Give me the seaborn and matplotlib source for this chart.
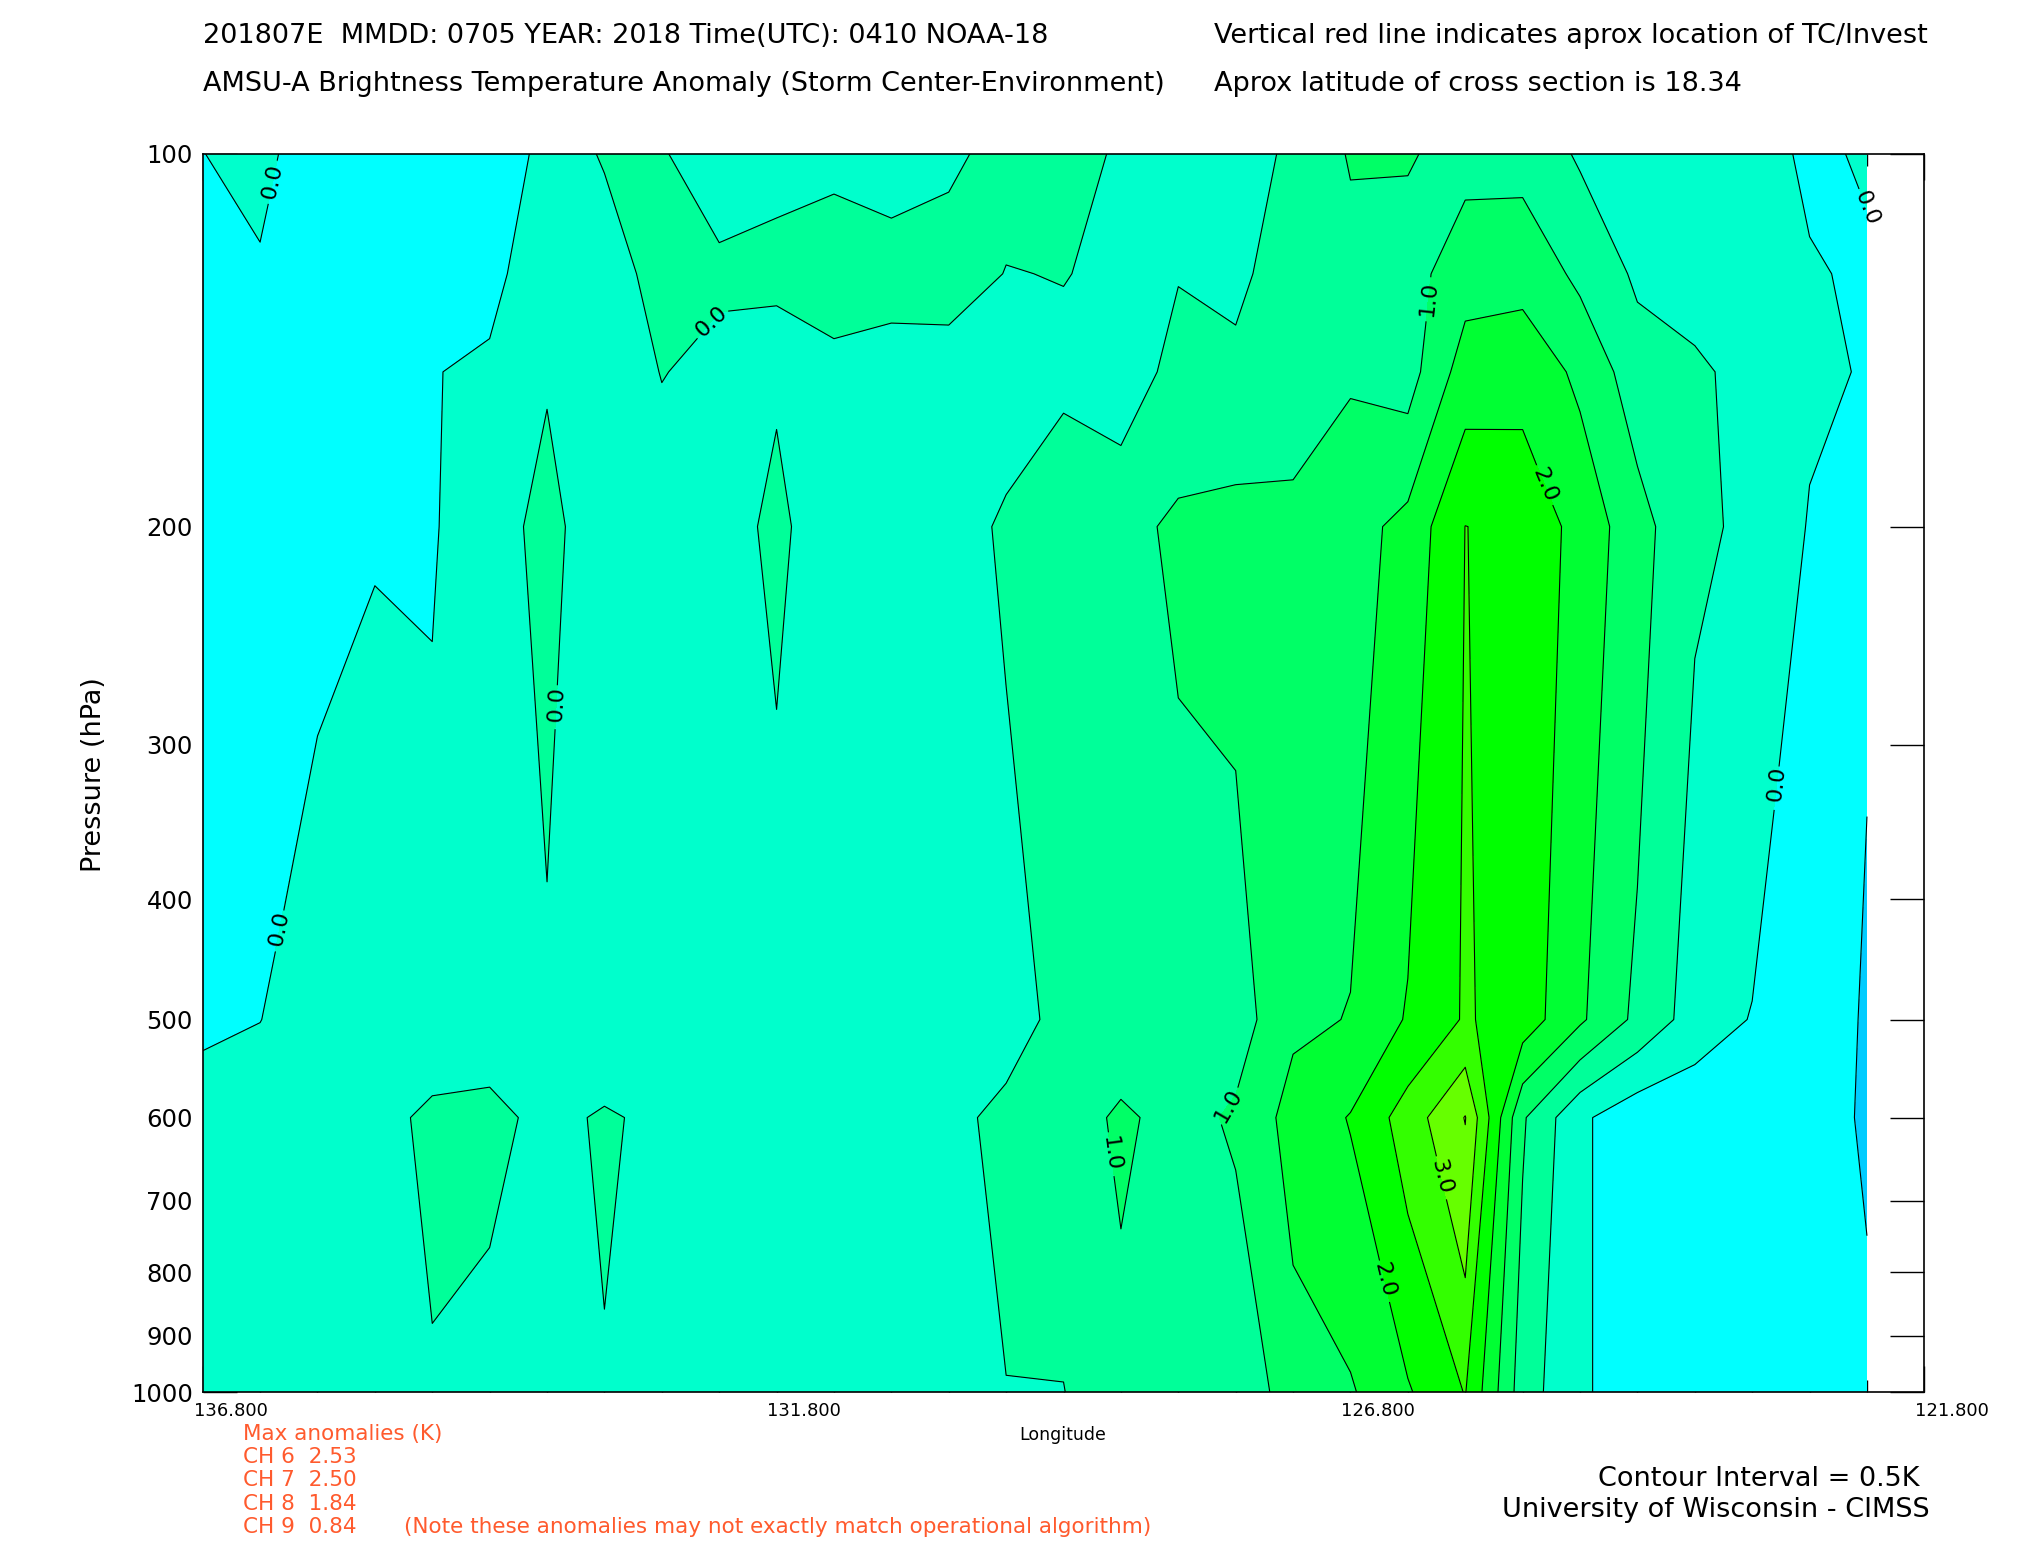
import numpy as np
import matplotlib
matplotlib.use("Agg")
import matplotlib.pyplot as plt
import matplotlib.ticker as mticker
from matplotlib.colors import ListedColormap, BoundaryNorm
from matplotlib.transforms import ScaledTranslation
import seaborn as sns

# ---- data: AMSU-A brightness temperature anomaly cross section ----
# 30 longitude columns, 0.5 deg apart, from 136.8E westward to 122.3E
lons = np.round(np.arange(136.8, 122.29, -0.5), 1)
pressure = [100, 125, 150, 200, 500, 600, 1000]

anom_100 = [-0.005, 0.1, -0.21, -0.25, -0.3, -0.45, 0.2, 0.55, 0.53, 0.28,
            0.465, 0.387, 0.293, 0.395, 0.68, 0.6, 0.467, 0.35, 0.45, 0.52,
            1.05, 1.04, 0.835, 0.822, 0.44, 0.35, 0.3, 0.24, -0.1, 0.06]
anom_125 = [-0.2, -0.04, -0.25, -0.25, -0.25, -0.178, 0.4, 0.21, 0.728, 0.586,
            0.534, 0.75, 0.7, 0.75, 0.484, 0.517, 0.4, 0.478, 0.35, 0.85,
            0.8, 0.8, 1.294, 1.346, 0.888, 0.42, 0.2, 0.25, 0.05, -0.08]
anom_150 = [-0.25, -0.2, -0.25, -0.15, -0.023, 0.1, 0.452, 0.12, 0.52, 0.353,
            0.423, 0.36, 0.283, 0.25, 0.4, 0.374, 0.225, 0.66, 0.65, 0.6,
            0.946, 0.79, 1.742, 1.794, 1.407, 0.716, 0.62, 0.28, 0.08, -0.03]
anom_200 = [-0.3, -0.25, -0.093, -0.021, -0.034, 0.25, 0.674, 0.13, 0.19, 0.2,
            0.65, 0.073, 0.15, 0.41, 0.53, 0.9, 0.85, 1.088, 1.15, 1.2,
            1.3, 1.657, 2.505, 2.4, 1.81, 1.21, 0.55, 0.45, -0.034, -0.45]
anom_500 = [-0.064, -0.006, 0.2, 0.25, 0.18, 0.297, 0.395, 0.2, 0.25, 0.2,
            0.094, 0.15, 0.2, 0.3, 0.4, 0.57, 0.6, 0.736, 0.758, 1.41,
            1.518, 2.048, 2.55, 2.27, 1.58, 0.88, 0.28, -0.027, -0.2, -0.555]
anom_600 = [0.15, 0.2, 0.25, 0.337, 0.6, 0.6, 0.4, 0.543, 0.42, 0.3,
            0.3, 0.3, 0.35, 0.441, 0.559, 0.7, 1.1, 0.8, 1.08, 1.68,
            2.029, 2.73, 3.52, 1.06, 0.093, -0.33, -0.36, -0.3, -0.25, -0.57]
anom_1000 = [0.2, 0.2, 0.2, 0.25, 0.457, 0.356, 0.3, 0.476, 0.4, 0.3,
             0.3, 0.3, 0.3, 0.35, 0.495, 0.49, 0.81, 0.75, 0.56, 1.3,
             1.446, 1.95, 2.52, 0.73, 0.093, -0.33, -0.36, -0.3, -0.2, -0.38]

levels = [-1.0, -0.5, 0.0, 0.5, 1.0, 1.5, 2.0, 2.5, 3.0, 3.5, 4.0]
band_colors = ["#00ccff", "#00ffff", "#00ffcc", "#00ff99", "#00ff66",
               "#00ff33", "#00ff00", "#33ff00", "#66ff00", "#99ff00"]
labelled_levels = [0.0, 0.5, 1.0, 2.0, 3.0]
plain_levels = [-0.5, 1.5, 2.5, 3.5]

x_major = [136.8, 131.8, 126.8, 121.8]
x_major_labels = ["136.800", "131.800", "126.800", "121.800"]
y_ticks = [100, 200, 300, 400, 500, 600, 700, 800, 900, 1000]

max_anoms = [("CH 6", 2.53), ("CH 7", 2.50), ("CH 8", 1.84), ("CH 9", 0.84)]

# where the IDL labels sit (lon, hPa) and the text it printed for each level
label_spots = [(136.26, 105), (132.24, 140), (136.2, 421), (133.77, 278),
               (126.1, 131), (125.11, 185), (127.9, 584), (128.86, 641),
               (125.99, 669), (126.47, 809), (123.17, 322), (122.36, 112)]
label_text = {0.0: "0.0", 0.5: "0.0", 1.0: "1.0", 2.0: "2.0", 3.0: "3.0"}

# ---- style ----
sns.set_theme(style="white", rc={"axes.edgecolor": "black", "text.color": "black",
                                 "xtick.color": "black", "ytick.color": "black"})
plt.rcParams["font.family"] = ["DejaVu Sans"]

grid = np.array([anom_100, anom_125, anom_150, anom_200, anom_500, anom_600, anom_1000])
x_inc = lons[::-1]
z_inc = grid[:, ::-1]

cmap = ListedColormap(sns.color_palette(band_colors))
norm = BoundaryNorm(levels, cmap.N)

fig = plt.figure(figsize=(20.25, 15.5), dpi=100)
ax = fig.add_axes([0.1001, 0.1017, 0.8502, 0.7991])
ax.set_yscale("log")

ax.contourf(x_inc, pressure, z_inc, levels=levels, cmap=cmap, norm=norm)
ax.contour(x_inc, pressure, z_inc, levels=plain_levels, colors="black",
           linewidths=0.8, linestyles="solid")
lab_lines = ax.contour(x_inc, pressure, z_inc, levels=labelled_levels, colors="black",
                       linewidths=0.8, linestyles="solid")
ax.clabel(lab_lines, manual=label_spots, fmt=label_text, inline=True,
          fontsize=16, inline_spacing=4)

ax.set_xlim(136.8, 121.8)
ax.set_ylim(1000, 100)

ax.xaxis.set_major_locator(mticker.FixedLocator(x_major))
ax.xaxis.set_major_formatter(mticker.FixedFormatter(x_major_labels))
ax.xaxis.set_minor_locator(mticker.FixedLocator(np.arange(121.8, 136.85, 0.5)))
ax.yaxis.set_major_locator(mticker.FixedLocator(y_ticks))
ax.yaxis.set_major_formatter(mticker.FixedFormatter([str(t) for t in y_ticks]))
ax.yaxis.set_minor_locator(mticker.NullLocator())

ax.tick_params(axis="x", which="major", direction="in", length=19, width=1.0,
               top=True, bottom=True, labelsize=13, pad=7)
ax.tick_params(axis="x", which="minor", direction="in", length=8.5, width=1.0,
               top=True, bottom=True)
ax.tick_params(axis="y", which="major", direction="in", length=24.5, width=1.0,
               left=True, right=True, labelsize=17.5, pad=7)
for sp in ax.spines.values():
    sp.set_linewidth(1.2)
    sp.set_color("black")

# IDL puts the longitude labels a little to the right of their ticks
shift = ScaledTranslation(20 / 72, 0, fig.dpi_scale_trans)
for lbl in ax.get_xticklabels():
    lbl.set_transform(lbl.get_transform() + shift)

# ---- texts ----
fig.text(0.1001, 0.9767, "201807E  MMDD: 0705 YEAR: 2018 Time(UTC): 0410 NOAA-18",
         fontsize=19.5, va="center", ha="left")
fig.text(0.1001, 0.9458, "AMSU-A Brightness Temperature Anomaly (Storm Center-Environment)",
         fontsize=19.5, va="center", ha="left")
fig.text(0.5995, 0.9767, "Vertical red line indicates aprox location of TC/Invest",
         fontsize=19.5, va="center", ha="left")
fig.text(0.5995, 0.9458, "Aprox latitude of cross section is 18.34",
         fontsize=19.5, va="center", ha="left")

fig.text(0.0466, 0.50, "Pressure (hPa)", fontsize=19.5, rotation=90,
         va="center", ha="center")
fig.text(0.5249, 0.0742, "Longitude", fontsize=12.5, va="center", ha="center")

red = "#ff5a2d"
fig.text(0.1199, 0.0750, "Max anomalies (K)", fontsize=15.5, color=red, va="center")
for k, (ch, val) in enumerate(max_anoms):
    fig.text(0.1199, 0.0600 - 0.015 * k, f"{ch}  {val:.2f}", fontsize=15.5,
             color=red, va="center")
fig.text(0.1996, 0.0150, "(Note these anomalies may not exactly match operational algorithm)",
         fontsize=15.5, color=red, va="center")

fig.text(0.9477, 0.0458, "Contour Interval = 0.5K", fontsize=19.5, ha="right", va="center")
fig.text(0.9528, 0.0258, "University of Wisconsin - CIMSS", fontsize=19.5,
         ha="right", va="center")

fig.savefig("out.png", dpi=100, facecolor="white")
